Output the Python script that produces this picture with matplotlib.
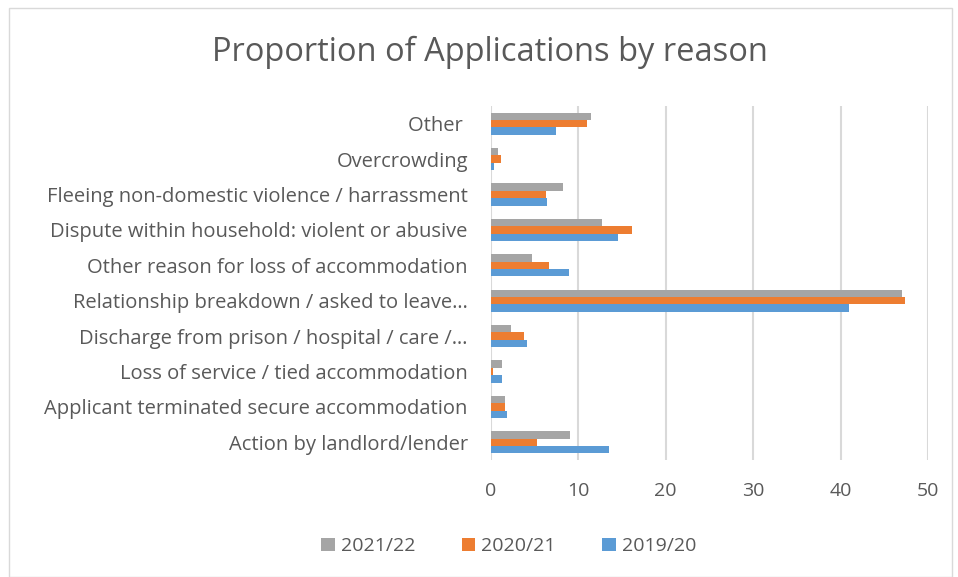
import numpy as np
import matplotlib.pyplot as plt
from matplotlib.patches import Rectangle

plt.rcParams['font.family'] = ['Open Sans', 'DejaVu Sans']

categorias = [
    'Other ',
    'Overcrowding',
    'Fleeing non-domestic violence / harrassment',
    'Dispute within household: violent or abusive',
    'Other reason for loss of accommodation',
    'Relationship breakdown / asked to leave…',
    'Discharge from prison / hospital / care /…',
    'Loss of service / tied accommodation',
    'Applicant terminated secure accommodation',
    'Action by landlord/lender',
]
v2122 = [11.5, 0.8, 8.3, 12.7, 4.7, 47.0, 2.3, 1.3, 1.6, 9.1]
v2021 = [11.0, 1.2, 6.3, 16.1, 6.7, 47.3, 3.8, 0.3, 1.6, 5.3]
v1920 = [7.5, 0.4, 6.4, 14.6, 9.0, 40.9, 4.2, 1.3, 1.9, 13.5]
series = [('2021/22', v2122, '#a5a5a5'),
          ('2020/21', v2021, '#ed7d31'),
          ('2019/20', v1920, '#5b9bd5')]

cinza = '#595959'

fig = plt.figure(figsize=(9.58, 5.77), dpi=100)
ax = fig.add_axes([0.5122, 0.2028, 0.4568, 0.6135])

y = np.arange(len(categorias))
h = 0.21
for k, (nome, vals, cor) in enumerate(series):
    ax.barh(y + (k - 1) * h, vals, height=h, color=cor, label=nome, zorder=3)

ax.set_ylim(len(categorias) - 0.5, -0.5)
ax.set_xlim(0, 50)
ax.set_xticks(range(0, 51, 10))
ax.set_yticks(y)
ax.set_yticklabels(categorias, fontsize=14.5, color=cinza)
ax.tick_params(axis='x', labelsize=14, colors=cinza, length=0, pad=16)
ax.tick_params(axis='y', length=0, pad=16.5)
ax.grid(axis='x', color='#d9d9d9', linewidth=1.5, zorder=0)
for s in ax.spines.values():
    s.set_visible(False)

fig.text(0.511, 0.91, 'Proportion of Applications by reason', ha='center',
         va='center', fontsize=23.5, color=cinza)

fig.legend(loc='center', bbox_to_anchor=(0.531, 0.053), ncol=3, frameon=False,
           fontsize=14, labelcolor=cinza, handlelength=0.7, handleheight=0.7,
           handletextpad=0.3, columnspacing=2.4)

fig.patches.append(Rectangle((0.009, 0.0), 0.985, 0.987, transform=fig.transFigure,
                             fill=False, edgecolor='#d9d9d9', linewidth=1))

fig.savefig('out.png', dpi=100)
